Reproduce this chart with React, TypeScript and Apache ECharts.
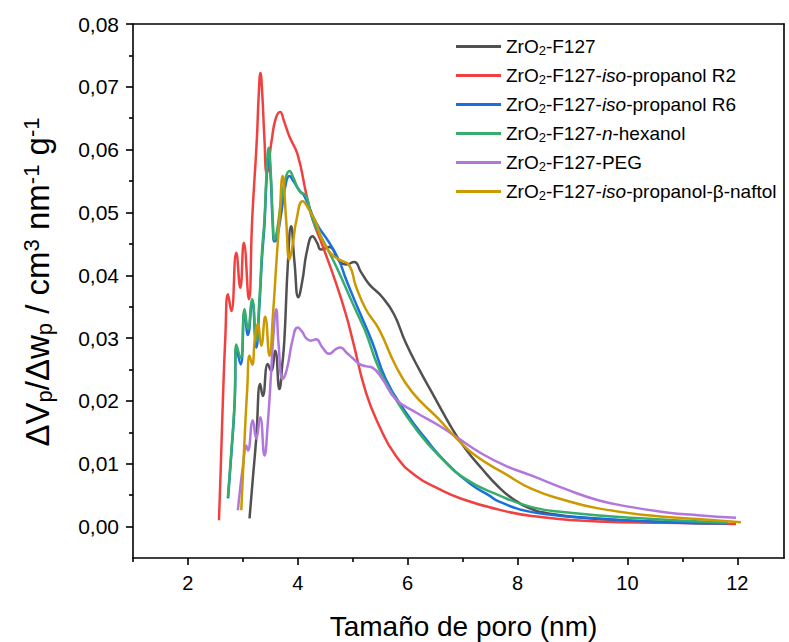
import React, { useEffect, useRef } from 'react';
import * as echarts from 'echarts';

const FONT = '"Liberation Sans", Arial, Helvetica, sans-serif';

// ---- categories / names ----
const seriesNames = [
  'ZrO2-F127',
  'ZrO2-F127-iso-propanol R2',
  'ZrO2-F127-iso-propanol R6',
  'ZrO2-F127-n-hexanol',
  'ZrO2-F127-PEG',
  'ZrO2-F127-iso-propanol-β-naftol',
];
const legendRich = [
  'ZrO{s|2}-F127',
  'ZrO{s|2}-F127-{i|iso}-propanol R2',
  'ZrO{s|2}-F127-{i|iso}-propanol R6',
  'ZrO{s|2}-F127-{i|n}-hexanol',
  'ZrO{s|2}-F127-PEG',
  'ZrO{s|2}-F127-{i|iso}-propanol-β-naftol',
];
const colors = ['#515151', '#F14040', '#1A6FDF', '#37AD6B', '#B177DE', '#CC9900'];

// ---- tick labels ----
const xTickValues = [2, 4, 6, 8, 10, 12];
const xMinorValues = [1, 3, 5, 7, 9, 11];
const yTickValues = [0, 0.01, 0.02, 0.03, 0.04, 0.05, 0.06, 0.07, 0.08];
const yMinorValues = [0.005, 0.015, 0.025, 0.035, 0.045, 0.055, 0.065, 0.075];

// ---- series values [pore size nm, dV/dw] ----
const f127 = [
  [3.121, 0.0013], [3.18, 0.0075], [3.243, 0.014], [3.316, 0.0227], [3.363, 0.0208],
  [3.453, 0.0259], [3.515, 0.0248], [3.588, 0.028], [3.665, 0.0219], [3.72, 0.026],
  [3.756, 0.0298], [3.82, 0.042], [3.878, 0.0478], [3.94, 0.042], [4.01, 0.0365],
  [4.08, 0.039], [4.17, 0.044], [4.269, 0.0462], [4.35, 0.0452], [4.422, 0.0441],
  [4.57, 0.0445], [4.753, 0.0423], [4.875, 0.0417], [5.025, 0.0421], [5.15, 0.0405],
  [5.297, 0.0386], [5.539, 0.0365], [5.751, 0.0338], [5.963, 0.0293], [6.204, 0.0251],
  [6.507, 0.0203], [6.808, 0.0156], [7.051, 0.0124], [7.352, 0.0092], [7.655, 0.0063],
  [7.9, 0.0045], [8.2, 0.003], [8.561, 0.0021], [9.468, 0.0012], [10.677, 0.0007],
  [11.825, 0.0005],
];
const r2 = [
  [2.565, 0.001], [2.6, 0.01], [2.637, 0.0203], [2.68, 0.03], [2.728, 0.037],
  [2.79, 0.0343], [2.88, 0.0436], [2.953, 0.038], [3.018, 0.0452], [3.109, 0.0362],
  [3.17, 0.049], [3.254, 0.0616], [3.29, 0.069], [3.32, 0.0722], [3.352, 0.069],
  [3.393, 0.0616], [3.435, 0.0563], [3.526, 0.0616], [3.6, 0.065], [3.678, 0.066],
  [3.75, 0.0645], [3.847, 0.0621], [3.997, 0.0592], [4.15, 0.0531], [4.269, 0.0489],
  [4.451, 0.0447], [4.694, 0.0388], [4.875, 0.0338], [4.995, 0.0298], [5.238, 0.0214],
  [5.479, 0.0161], [5.781, 0.0113], [6.144, 0.0081], [6.567, 0.006], [6.989, 0.0044],
  [7.655, 0.0027], [8.258, 0.0017], [9.468, 0.0008], [10.677, 0.0006], [11.976, 0.0004],
];
const r6 = [
  [2.73, 0.0045], [2.79, 0.0115], [2.85, 0.0195], [2.88, 0.0285], [2.96, 0.0258],
  [3.031, 0.0342], [3.091, 0.0305], [3.17, 0.0358], [3.243, 0.0285], [3.3, 0.035],
  [3.35, 0.043], [3.393, 0.048], [3.43, 0.055], [3.47, 0.059], [3.51, 0.055],
  [3.544, 0.048], [3.575, 0.0454], [3.62, 0.046], [3.7, 0.05], [3.78, 0.0545],
  [3.847, 0.0558], [3.92, 0.055], [4.03, 0.0535], [4.12, 0.0526], [4.331, 0.0484],
  [4.572, 0.0452], [4.753, 0.0423], [4.875, 0.0394], [5.116, 0.0343], [5.357, 0.0293],
  [5.6, 0.0235], [5.963, 0.0182], [6.325, 0.014], [6.688, 0.0103], [7.171, 0.0066],
  [7.473, 0.005], [7.655, 0.004], [8.258, 0.0023], [9.468, 0.0013], [10.677, 0.0007],
  [11.825, 0.0005],
];
const hexanol = [
  [2.728, 0.0047], [2.79, 0.012], [2.85, 0.02], [2.88, 0.029], [2.96, 0.0268],
  [3.031, 0.0346], [3.091, 0.0315], [3.17, 0.0362], [3.243, 0.0295], [3.3, 0.036],
  [3.35, 0.044], [3.393, 0.0489], [3.43, 0.056], [3.471, 0.0603], [3.51, 0.056],
  [3.544, 0.0489], [3.575, 0.0457], [3.62, 0.047], [3.7, 0.052], [3.78, 0.0555],
  [3.847, 0.0566], [3.92, 0.0555], [4.028, 0.0534], [4.15, 0.0526], [4.269, 0.0489],
  [4.451, 0.0457], [4.694, 0.0415], [4.935, 0.0368], [5.0, 0.0355], [5.12, 0.0332],
  [5.238, 0.0309], [5.479, 0.0251], [5.781, 0.0203], [6.144, 0.0156], [6.567, 0.0113],
  [7.051, 0.0076], [7.655, 0.005], [8.258, 0.0031], [8.864, 0.0023], [10.072, 0.0014],
  [11.825, 0.0006],
];
const peg = [
  [2.909, 0.0026], [2.95, 0.006], [3.0, 0.0095], [3.062, 0.0129], [3.091, 0.0121],
  [3.181, 0.0169], [3.243, 0.014], [3.316, 0.0174], [3.393, 0.0113], [3.45, 0.016],
  [3.515, 0.0246], [3.56, 0.031], [3.606, 0.0346], [3.65, 0.029], [3.725, 0.0235],
  [3.8, 0.025], [3.907, 0.0298], [3.997, 0.0317], [4.08, 0.031], [4.15, 0.03],
  [4.24, 0.0296], [4.331, 0.0298], [4.45, 0.0285], [4.572, 0.0275], [4.7, 0.0283],
  [4.78, 0.0285], [4.875, 0.0278], [5.0, 0.0268], [5.116, 0.0259], [5.25, 0.0255],
  [5.357, 0.0253], [5.539, 0.0235], [5.781, 0.0203], [6.144, 0.0182], [6.567, 0.0161],
  [6.929, 0.014], [7.352, 0.0116], [7.776, 0.0097], [8.258, 0.0081], [8.864, 0.006],
  [9.468, 0.0042], [10.072, 0.0031], [10.677, 0.0023], [11.281, 0.0018], [11.976, 0.0014],
];
const naftol = [
  [2.971, 0.0026], [3.031, 0.014], [3.08, 0.022], [3.121, 0.0272], [3.17, 0.0258],
  [3.22, 0.03], [3.272, 0.0322], [3.334, 0.0288], [3.406, 0.0334], [3.484, 0.0272],
  [3.55, 0.034], [3.606, 0.0415], [3.665, 0.0489], [3.725, 0.0558], [3.787, 0.0489],
  [3.847, 0.0425], [3.9, 0.0445], [3.98, 0.049], [4.088, 0.0518], [4.2, 0.0505],
  [4.331, 0.0484], [4.45, 0.0455], [4.6, 0.0435], [4.753, 0.0425], [4.935, 0.0416],
  [5.056, 0.0383], [5.238, 0.0346], [5.479, 0.0314], [5.781, 0.0256], [6.082, 0.0214],
  [6.567, 0.0171], [6.869, 0.0142], [7.232, 0.0113], [7.776, 0.0084], [8.258, 0.006],
  [8.864, 0.0042], [9.468, 0.0029], [10.374, 0.0018], [11.281, 0.0012], [12.066, 0.0007],
];
const seriesData = [f127, r2, r6, hexanol, peg, naftol];

const X_MIN = 1;
const X_MAX = 12.85;
const Y_MIN = -0.005;
const Y_MAX = 0.08;

export default function App() {
  const ref = useRef<HTMLDivElement>(null);
  useEffect(() => {
    if (!ref.current) return;
    const chart = echarts.init(ref.current, null, { renderer: 'svg' });
    const axisColor = '#000';
    const lineW = 1.6;
    const hidden = {
      axisLabel: { show: false },
      splitLine: { show: false },
    };
    chart.setOption({
      animation: false,
      backgroundColor: '#fff',
      grid: { left: 133, right: 5, top: 24, bottom: 84, containLabel: false, outerBoundsMode: 'none' },
      legend: {
        orient: 'vertical',
        left: 451,
        top: 31,
        icon: 'rect',
        itemWidth: 45,
        itemHeight: 3,
        itemGap: 8,
        data: seriesNames,
        formatter: (name: string) => legendRich[seriesNames.indexOf(name)],
        textStyle: {
          fontFamily: FONT,
          fontSize: 19,
          color: '#000',
          lineHeight: 21,
          rich: {
            s: { fontFamily: FONT, fontSize: 13, lineHeight: 13, padding: [8, 0, 0, 0], color: '#000' },
            i: { fontFamily: FONT, fontSize: 19, lineHeight: 21, fontStyle: 'italic', color: '#000' },
          },
        },
      },
      xAxis: [
        {
          type: 'value',
          position: 'bottom',
          min: X_MIN,
          max: X_MAX,
          axisLine: { show: true, onZero: false, lineStyle: { color: axisColor, width: lineW } },
          axisTick: { show: true, customValues: xTickValues, length: 7, lineStyle: { color: axisColor, width: lineW } },
          axisLabel: {
            show: true,
            customValues: xTickValues,
            fontFamily: FONT,
            fontSize: 20,
            color: '#000',
            margin: 15,
          },
          splitLine: { show: false },
          name: 'Tamaño de poro (nm)',
          nameLocation: 'middle',
          nameGap: 54,
          nameTextStyle: { fontFamily: FONT, fontSize: 28, color: '#000', padding: [0, 0, 0, 10] },
        },
        {
          type: 'value',
          position: 'bottom',
          min: X_MIN,
          max: X_MAX,
          axisLine: { show: false, onZero: false },
          axisTick: { show: true, customValues: xMinorValues, length: 4, lineStyle: { color: axisColor, width: lineW } },
          ...hidden,
        },
        {
          type: 'value',
          position: 'top',
          min: X_MIN,
          max: X_MAX,
          axisLine: { show: true, onZero: false, lineStyle: { color: axisColor, width: lineW } },
          axisTick: { show: false },
          ...hidden,
        },
      ],
      yAxis: [
        {
          type: 'value',
          position: 'left',
          min: Y_MIN,
          max: Y_MAX,
          axisLine: { show: true, onZero: false, lineStyle: { color: axisColor, width: lineW } },
          axisTick: { show: true, customValues: yTickValues, length: 7, lineStyle: { color: axisColor, width: lineW } },
          axisLabel: {
            show: true,
            customValues: yTickValues,
            fontFamily: FONT,
            fontSize: 21,
            color: '#000',
            margin: 14,
            formatter: (v: number) => v.toFixed(2).replace('.', ','),
          },
          splitLine: { show: false },
          name: 'ΔV{s|p}/Δw{s|p} / cm{u|3} nm{u|-1} g{u|-1}',
          nameLocation: 'middle',
          nameRotate: 90,
          nameGap: 78,
          nameTextStyle: {
            fontFamily: FONT,
            fontSize: 33,
            color: '#000',
            lineHeight: 35,
            padding: [0, 0, 0, 18],
            rich: {
              s: { fontFamily: FONT, fontSize: 22, lineHeight: 22, padding: [13, 0, 0, 0], color: '#000' },
              u: { fontFamily: FONT, fontSize: 22, lineHeight: 22, padding: [0, 0, 13, 0], color: '#000' },
            },
          },
        },
        {
          type: 'value',
          position: 'left',
          min: Y_MIN,
          max: Y_MAX,
          axisLine: { show: false, onZero: false },
          axisTick: { show: true, customValues: yMinorValues, length: 4, lineStyle: { color: axisColor, width: lineW } },
          ...hidden,
        },
        {
          type: 'value',
          position: 'right',
          min: Y_MIN,
          max: Y_MAX,
          axisLine: { show: true, onZero: false, lineStyle: { color: axisColor, width: lineW } },
          axisTick: { show: false },
          ...hidden,
        },
      ],
      series: seriesNames.map((name, i) => ({
        name,
        type: 'line',
        xAxisIndex: 0,
        yAxisIndex: 0,
        data: seriesData[i],
        smooth: 0.5,
        symbol: 'none',
        showSymbol: false,
        color: colors[i],
        lineStyle: { color: colors[i], width: 2.5 },
        itemStyle: { color: colors[i] },
        emphasis: { disabled: true },
      })),
    });
    return () => chart.dispose();
  }, []);
  return (
    <div
      ref={ref}
      style={{ position: 'absolute', left: 0, top: 0, width: 789, height: 642, background: '#fff' }}
    />
  );
}
